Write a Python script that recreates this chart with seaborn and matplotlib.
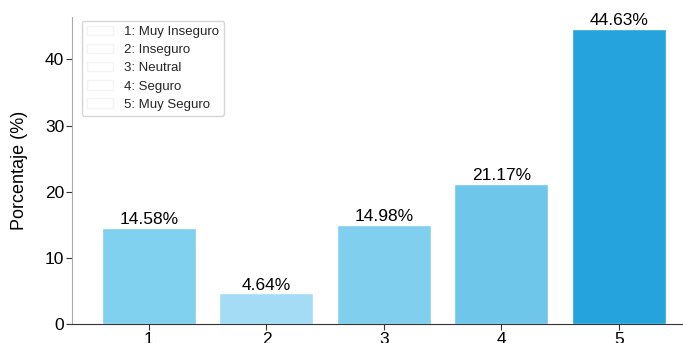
import pandas as pd
import seaborn as sns
import matplotlib.pyplot as plt
from matplotlib.patches import Patch

# datos
categorias = ['1', '2', '3', '4', '5']
porcentajes = [14.58, 4.64, 14.98, 21.17, 44.63]
etiquetas = ['1: Muy Inseguro', '2: Inseguro', '3: Neutral', '4: Seguro', '5: Muy Seguro']
colores = ['#80d0f0', '#a5dcf5', '#80cfee', '#6ec6eb', '#24a3dd']

df = pd.DataFrame({'Nivel': categorias, 'Porcentaje': porcentajes})

sns.set_style('ticks')
plt.rcParams['font.family'] = ['Liberation Sans', 'DejaVu Sans']

fig = plt.figure(figsize=(6.83, 3.43), dpi=100)
ax = fig.add_axes([72 / 683, 19 / 343, 1 - 72 / 683, 1 - 36 / 343])

sns.barplot(data=df, x='Nivel', y='Porcentaje', hue='Nivel', palette=colores,
            legend=False, width=0.8, saturation=1, ax=ax)

for i, v in enumerate(porcentajes):
    ax.text(i, v + 0.1, f'{v:.2f}%', ha='center', va='bottom', fontsize=12.5, color='black')

ax.set_xlim(-0.655, 4.545)
ax.set_ylim(0, 46.4)
ax.set_xlabel('')
ax.set_ylabel('Porcentaje (%)', fontsize=13, color='black', labelpad=12)
ax.tick_params(labelsize=12.5, labelcolor='black', length=4, pad=1.5, color='#333333')
sns.despine(ax=ax)
ax.spines['left'].set_color('#aaaaaa')
ax.spines['bottom'].set_color('#333333')

handles = [Patch(facecolor='white', edgecolor='#f4f4f4') for _ in etiquetas]
ax.legend(handles, etiquetas, loc='upper left', fontsize=9.5, frameon=True,
          bbox_to_anchor=(0.005, 1.01), labelspacing=0.45)

fig.savefig('out.png', dpi=100)
